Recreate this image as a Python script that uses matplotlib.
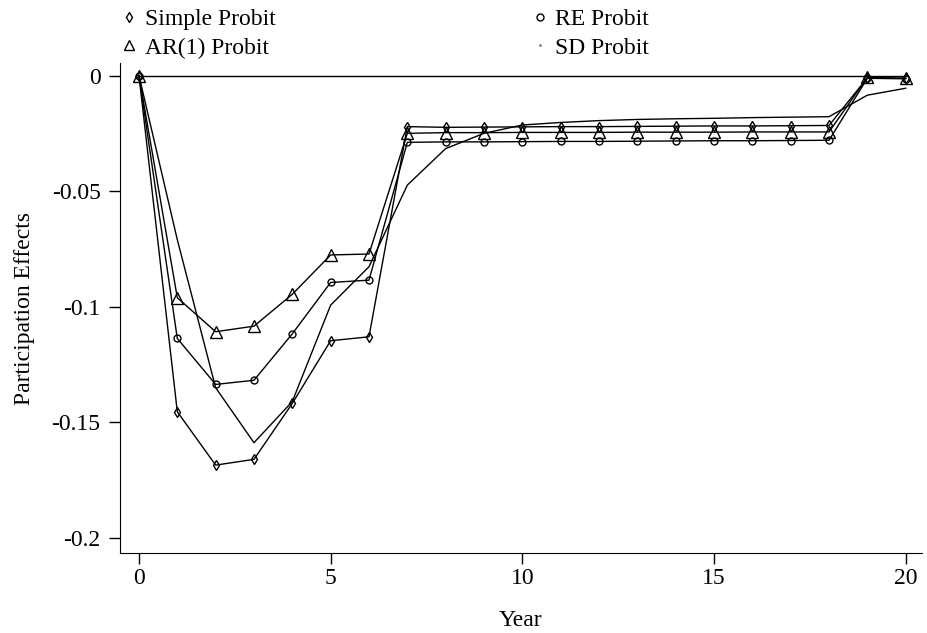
import matplotlib
matplotlib.use("Agg")
import matplotlib.pyplot as plt
from matplotlib.lines import Line2D

plt.rcParams['font.family'] = ['Liberation Serif', 'DejaVu Serif']

years = list(range(21))

simple_probit = [0, -0.1454, -0.1685, -0.1660, -0.1418, -0.1147, -0.1130, -0.0221,
                 -0.0224, -0.0223, -0.0222, -0.0221, -0.0221, -0.0220, -0.0219,
                 -0.0218, -0.0218, -0.0217, -0.0216, -0.0010, -0.0012]
re_probit = [0, -0.1137, -0.1336, -0.1318, -0.1117, -0.0895, -0.0885, -0.0289,
             -0.0287, -0.0287, -0.0286, -0.0285, -0.0285, -0.0284, -0.0283,
             -0.0282, -0.0282, -0.0281, -0.0280, -0.0012, -0.0014]
ar1_probit = [0, -0.0961, -0.1108, -0.1084, -0.0946, -0.0776, -0.0772, -0.0250,
              -0.0247, -0.0247, -0.0246, -0.0246, -0.0246, -0.0245, -0.0245,
              -0.0245, -0.0244, -0.0244, -0.0244, -0.0008, -0.0012]
sd_probit = [0, -0.0710, -0.1350, -0.1588, -0.1410, -0.0993, -0.0827, -0.0474,
             -0.0316, -0.0250, -0.0214, -0.0203, -0.0195, -0.0190, -0.0187,
             -0.0185, -0.0182, -0.0180, -0.0178, -0.0085, -0.0055]

fig = plt.figure(figsize=(9.28, 6.33), dpi=100)
ax = fig.add_axes([0.1293, 0.1264, 0.864, 0.774])

# zero reference line
ax.plot([0, 20], [0, 0], color='black', lw=1)

ax.plot(years, sd_probit, color='black', lw=1)
ax.plot(years, simple_probit, color='black', lw=1, marker='d', ms=5,
        mfc='none', mec='black', mew=1)
ax.plot(years, re_probit, color='black', lw=1, marker='o', ms=5,
        mfc='none', mec='black', mew=1)
ax.plot(years, ar1_probit, color='black', lw=1, marker='^', ms=8,
        mfc='none', mec='black', mew=1)

ax.set_xlim(-0.495, 20.42)
ax.set_ylim(-0.2065, 0.0054)
ax.set_xticks([0, 5, 10, 15, 20])
ax.set_yticks([0, -0.05, -0.1, -0.15, -0.2])
ax.set_yticklabels(['0', '-0.05', '-0.1', '-0.15', '-0.2'])
ax.tick_params(labelsize=17, length=8, width=1)
ax.tick_params(axis='x', pad=3)
ax.tick_params(axis='y', pad=6)
ax.spines['top'].set_visible(False)
ax.spines['right'].set_visible(False)
ax.set_xlabel('Year', fontsize=17, labelpad=15)
ax.set_ylabel('Participation Effects', fontsize=17, labelpad=12)

handles = [
    Line2D([], [], ls='none', marker='d', ms=5, mfc='none', mec='black'),
    Line2D([], [], ls='none', marker='^', ms=7, mfc='none', mec='black'),
    Line2D([], [], ls='none', marker='o', ms=5, mfc='none', mec='black'),
    Line2D([], [], ls='none', marker='.', ms=2, color='gray'),
]
labels = ['Simple Probit', 'AR(1) Probit', 'RE Probit', 'SD Probit']
fig.legend(handles, labels, ncol=2, loc='upper left',
           bbox_to_anchor=(0.109, 1.02), frameon=False, fontsize=17,
           handlelength=0.6, handletextpad=0.35, columnspacing=10.9,
           labelspacing=0.3)

fig.savefig('out.png', dpi=100)
